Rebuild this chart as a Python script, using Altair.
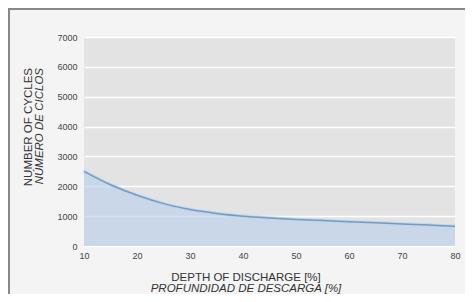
import altair as alt
import pandas as pd

# Data
dod = [10, 15, 20, 25, 30, 35, 40, 45, 50, 55, 60, 65, 70, 75, 80]
cycles = [2500, 2050, 1700, 1420, 1220, 1090, 1000, 940, 890, 850, 810, 780, 740, 700, 660]
x_ticks = [10, 20, 30, 40, 50, 60, 70, 80]
y_ticks = [0, 1000, 2000, 3000, 4000, 5000, 6000, 7000]
x_title = ["DEPTH OF DISCHARGE [%]", "PROFUNDIDAD DE DESCARGA [%]"]
y_title = ["NUMBER OF CYCLES", "NÚMERO DE CICLOS"]

df = pd.DataFrame({"dod": dod, "cycles": cycles})

FONT = "Liberation Sans"
W, H = 371, 209
TOP = 29

x_axis = alt.Axis(values=x_ticks, title=None, ticks=False, domain=False, grid=False,
                  labelFontSize=9, labelPadding=5, labelColor="#444", labelFont=FONT,
                  labelFlush=False, labelOverlap=False, format="d")
y_axis = alt.Axis(values=y_ticks, title=None, ticks=False, domain=False, grid=True,
                  gridColor="white", gridWidth=1.5, labelFontSize=9, labelPadding=7,
                  labelColor="#444", labelFont=FONT, labelFlush=False, labelOverlap=False,
                  format="d")
x_scale = alt.Scale(domain=[10, 80], nice=False, zero=False)
y_scale = alt.Scale(domain=[0, 7000], nice=False)


def xe():
    return alt.X("dod:Q", scale=x_scale, axis=x_axis)


def ye():
    return alt.Y("cycles:Q", scale=y_scale, axis=y_axis)


area = alt.Chart(df).mark_area(color="#b8cfeb", opacity=0.6, interpolate="monotone").encode(
    x=xe(), y=ye())
halo = alt.Chart(df).mark_line(color="#bcd8f2", strokeWidth=3.5, interpolate="monotone").encode(
    x=xe(), y=ye())
line = alt.Chart(df).mark_line(color="#7b9aba", strokeWidth=1.5, interpolate="monotone").encode(
    x=xe(), y=ye())


def label(text, x, y, italic=False, angle=0, align="center", baseline="alphabetic"):
    d = pd.DataFrame({"t": [text]})
    kw = dict(font=FONT, fontSize=11.5, color="#333", align=align, baseline=baseline)
    if italic:
        kw["fontStyle"] = "italic"
    if angle:
        kw["angle"] = angle
    return alt.Chart(d).mark_text(**kw).encode(text="t:N", x=alt.value(x), y=alt.value(y))


xt1 = label(x_title[0], 162, 281 - 8 - TOP)
xt2 = label(x_title[1], 162, 292 - 8 - TOP, italic=True)
yt1 = label(y_title[0], -55, 68 - 8 - TOP, angle=270, align="right", baseline="middle")
yt2 = label(y_title[1], -44, 68 - 8 - TOP, italic=True, angle=270, align="right", baseline="middle")

border_left = alt.Chart(df.head(1)).mark_rule(color="#888", strokeWidth=2, clip=False).encode(
    x=alt.value(-75), y=alt.value(-TOP), y2=alt.value(H + 60))
border_top = alt.Chart(df.head(1)).mark_rule(color="#888", strokeWidth=2, clip=False).encode(
    x=alt.value(-76), x2=alt.value(W + 10), y=alt.value(-TOP + 1))

chart = alt.layer(area, halo, line, xt1, xt2, yt1, yt2, border_left, border_top).properties(
    width=W, height=H,
    autosize=alt.AutoSizeParams(type="none"),
    padding={"left": 76, "top": TOP, "right": 10, "bottom": 48},
    background="#f4f4f4",
).configure_view(fill="#e3e3e3", stroke=None)

chart.save("out.html", embed_options={"renderer": "svg", "actions": False})
